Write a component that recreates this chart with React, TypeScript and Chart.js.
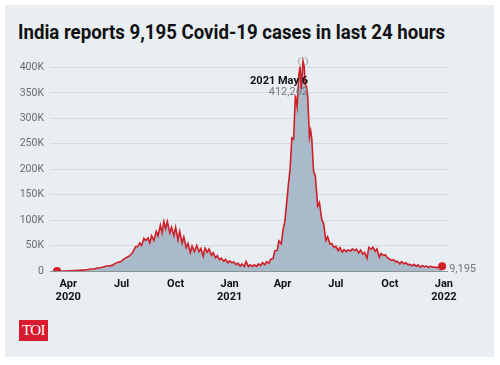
import React, { useEffect, useLayoutEffect, useRef } from "react";
import { Chart, registerables } from "chart.js";

Chart.register(...registerables);

const dates: string[] = [
  "2020-03-13","2020-03-20","2020-03-27","2020-04-01","2020-04-05","2020-04-10","2020-04-15","2020-04-20","2020-04-25","2020-04-30",
  "2020-05-05","2020-05-10","2020-05-15","2020-05-20","2020-05-25","2020-05-31","2020-06-05","2020-06-10","2020-06-15","2020-06-20",
  "2020-06-25","2020-06-30","2020-07-05","2020-07-10","2020-07-15","2020-07-20","2020-07-25","2020-07-28","2020-08-01","2020-08-04",
  "2020-08-08","2020-08-11","2020-08-15","2020-08-18","2020-08-21","2020-08-25","2020-08-29","2020-09-01","2020-09-05","2020-09-08",
  "2020-09-11","2020-09-14","2020-09-17","2020-09-21","2020-09-24","2020-09-28","2020-10-01","2020-10-05","2020-10-08","2020-10-12",
  "2020-10-15","2020-10-19","2020-10-22","2020-10-26","2020-10-29","2020-11-02","2020-11-06","2020-11-10","2020-11-13","2020-11-17",
  "2020-11-20","2020-11-24","2020-11-27","2020-12-01","2020-12-04","2020-12-08","2020-12-11","2020-12-15","2020-12-18","2020-12-22",
  "2020-12-25","2020-12-29","2021-01-01","2021-01-05","2021-01-08","2021-01-12","2021-01-15","2021-01-19","2021-01-22","2021-01-26",
  "2021-01-29","2021-02-02","2021-02-05","2021-02-09","2021-02-12","2021-02-16","2021-02-19","2021-02-23","2021-02-26","2021-03-02",
  "2021-03-05","2021-03-09","2021-03-12","2021-03-16","2021-03-19","2021-03-23","2021-03-26","2021-03-30","2021-04-02","2021-04-05",
  "2021-04-08","2021-04-11","2021-04-14","2021-04-17","2021-04-20","2021-04-23","2021-04-26","2021-04-29","2021-05-01","2021-05-03",
  "2021-05-06","2021-05-08","2021-05-10","2021-05-12","2021-05-14","2021-05-17","2021-05-19","2021-05-21","2021-05-24","2021-05-27",
  "2021-05-31","2021-06-03","2021-06-07","2021-06-10","2021-06-14","2021-06-17","2021-06-21","2021-06-24","2021-06-28","2021-07-01",
  "2021-07-05","2021-07-08","2021-07-12","2021-07-15","2021-07-19","2021-07-22","2021-07-26","2021-07-29","2021-08-02","2021-08-05",
  "2021-08-09","2021-08-12","2021-08-16","2021-08-19","2021-08-23","2021-08-26","2021-08-30","2021-09-02","2021-09-06","2021-09-09",
  "2021-09-13","2021-09-16","2021-09-20","2021-09-23","2021-09-27","2021-09-30","2021-10-04","2021-10-07","2021-10-11","2021-10-14",
  "2021-10-18","2021-10-21","2021-10-25","2021-10-28","2021-11-01","2021-11-04","2021-11-08","2021-11-11","2021-11-15","2021-11-18",
  "2021-11-22","2021-11-25","2021-11-29","2021-12-02","2021-12-06","2021-12-09","2021-12-13","2021-12-16","2021-12-20","2021-12-23",
  "2021-12-26","2021-12-29"
];

const cases: number[] = [
  10,50,100,400,500,900,1000,1500,1800,1900,
  3000,4000,4000,5600,6500,8000,9800,10000,11000,15000,
  17000,18500,24000,27000,30000,37000,48000,48000,55000,50000,
  64000,60000,65000,55000,69000,60000,78000,69000,90000,75000,
  97000,83000,97000,75000,86000,70000,86000,61000,78000,55000,
  67000,46000,54000,36000,49000,38000,50000,38000,44000,29000,
  45000,37000,43000,31000,36000,26000,30000,22000,25000,19000,
  23000,16000,20000,16000,18000,12500,15500,10000,14000,9000,
  18800,8600,12400,9100,12100,9100,13900,10600,16500,12300,
  18300,15300,23300,24500,39700,40700,59100,53500,81500,96900,
  131900,168900,200700,261500,259200,345100,323000,386500,401900,357000,
  412262,401000,366000,362700,343000,263500,276000,259500,196400,186400,
  127500,134200,100600,94000,60400,67200,53200,54000,46100,48800,
  39800,45900,37150,41800,38100,41400,39400,43500,40100,42900,
  35500,41200,32900,36400,25000,46200,42900,47000,38900,43300,
  27200,34400,30700,31900,26000,23500,20800,22400,18100,18900,
  13600,18400,14300,16100,12500,12900,10100,13000,8900,11900,
  7600,10500,8300,9700,6800,9400,7300,7900,6600,7500,
  6500,9195
];

const tickDates: string[] = ["2020-04-01","2020-07-01","2020-10-01","2021-01-01","2021-04-01","2021-07-01","2021-10-01","2022-01-01"];
const tickLabels: (string | string[])[] = [["Apr","2020"],"Jul","Oct",["Jan","2021"],"Apr","Jul","Oct",["Jan","2022"]];

const peakLabel = "2021 May 6";

const dayOf = (s: string) => {
  const [y, m, d] = s.split("-").map(Number);
  return (Date.UTC(y, m - 1, d) - Date.UTC(2020, 3, 1)) / 86400000;
};

const fmt = (n: number) => n.toLocaleString("en-US");

export default function App() {
  const canvasRef = useRef<HTMLCanvasElement>(null);
  const titleRef = useRef<HTMLSpanElement>(null);

  useLayoutEffect(() => {
    const el = titleRef.current;
    if (el) {
      const w = el.offsetWidth;
      el.style.transform = `scaleX(${427 / w})`;
    }
  }, []);

  useEffect(() => {
    const points = dates.map((d, i) => ({ x: dayOf(d), y: cases[i] }));
    let peakIdx = 0;
    cases.forEach((v, i) => { if (v > cases[peakIdx]) peakIdx = i; });
    const lastIdx = cases.length - 1;

    const annot = {
      id: "annot",
      afterDatasetsDraw(chart: any) {
        const ctx = chart.ctx;
        const meta = chart.getDatasetMeta(0);
        const pk = meta.data[peakIdx];
        const ls = meta.data[lastIdx];
        ctx.save();
        ctx.textBaseline = "middle";
        ctx.textAlign = "right";
        ctx.fillStyle = "#111";
        ctx.font = "bold 11px Roboto";
        ctx.fillText(peakLabel, pk.x + 5, pk.y + 20);
        ctx.fillStyle = "#777";
        ctx.font = "11px Roboto";
        ctx.fillText(fmt(cases[peakIdx]), pk.x + 5, pk.y + 31);
        ctx.textAlign = "left";
        ctx.fillText(fmt(cases[lastIdx]), ls.x + 7, ls.y + 3);
        ctx.restore();
      },
    };

    const chart = new Chart(canvasRef.current!, {
      type: "line",
      data: {
        datasets: [
          {
            data: points,
            borderColor: "#cf1f28",
            borderWidth: 1.6,
            backgroundColor: "#a9bbcb",
            fill: "origin",
            tension: 0,
            pointRadius: (c: any) => (c.dataIndex === 0 || c.dataIndex === lastIdx ? 4 : 0),
            pointBackgroundColor: "#cf1f28",
            pointBorderColor: "#cf1f28",
            pointBorderWidth: 0,
          },
          {
            data: [points[peakIdx]],
            showLine: false,
            pointRadius: 4.5,
            pointBackgroundColor: "rgba(0,0,0,0)",
            pointBorderColor: "#a8a8a8",
            pointBorderWidth: 1.2,
            fill: false,
          },
        ],
      },
      options: {
        animation: false,
        responsive: false,
        maintainAspectRatio: false,
        layout: { padding: { left: 0, right: 52, top: 9, bottom: 0 } },
        plugins: { legend: { display: false }, tooltip: { enabled: false } },
        scales: {
          x: {
            type: "linear",
            min: -31,
            max: 647,
            afterBuildTicks: (s: any) => {
              s.ticks = tickDates.map((d) => ({ value: dayOf(d) }));
            },
            afterFit: (s: any) => { s.height = 39; },
            grid: { display: false, drawTicks: false },
            border: { display: false },
            ticks: {
              autoSkip: false,
              maxRotation: 0,
              padding: 7,
              color: "#111",
              font: { family: "Roboto", size: 11, weight: "bold", lineHeight: 1.15 },
              callback: (_v: any, i: number) => tickLabels[i],
            },
          },
          y: {
            min: 0,
            max: 420000,
            afterBuildTicks: (s: any) => {
              const t = [];
              for (let v = 0; v <= 400000; v += 50000) t.push({ value: v });
              s.ticks = t;
            },
            afterFit: (s: any) => { s.width = 50; },
            grid: {
              drawTicks: false,
              color: (c: any) => (c.tick && c.tick.value === 0 ? "#8d9296" : "#d5dbe1"),
              lineWidth: 1,
            },
            border: { display: false },
            ticks: {
              padding: 6,
              color: "#6b6b6b",
              font: { family: "Roboto", size: 10.5 },
              callback: (v: any) => (v === 0 ? "0" : `${v / 1000}K`),
            },
          },
        },
      } as any,
      plugins: [annot],
    });
    return () => chart.destroy();
  }, []);

  return (
    <div style={{ position: "fixed", left: 0, top: 0, width: 500, height: 365, background: "#fff", overflow: "hidden" }}>
      <div style={{ position: "absolute", left: 5, top: 5, width: 489, height: 352, background: "#e9eef3" }} />
      <div style={{ position: "absolute", left: 18, top: 20, whiteSpace: "nowrap", lineHeight: "24px" }}>
        <span
          ref={titleRef}
          style={{ display: "inline-block", transformOrigin: "left center", fontFamily: "Roboto", fontWeight: 700, fontSize: 21, color: "#111" }}
        >
          India reports 9,195 Covid-19 cases in last 24 hours
        </span>
      </div>
      <canvas ref={canvasRef} width={500} height={265} style={{ position: "absolute", left: 0, top: 45, width: 500, height: 265 }} />
      <div
        style={{
          position: "absolute", left: 19, top: 320, width: 29, height: 21, background: "#d8192e",
          color: "#fff", fontFamily: "Liberation Serif", fontSize: 15, lineHeight: "21px", textAlign: "center", letterSpacing: -0.5,
        }}
      >
        TOI
      </div>
    </div>
  );
}
